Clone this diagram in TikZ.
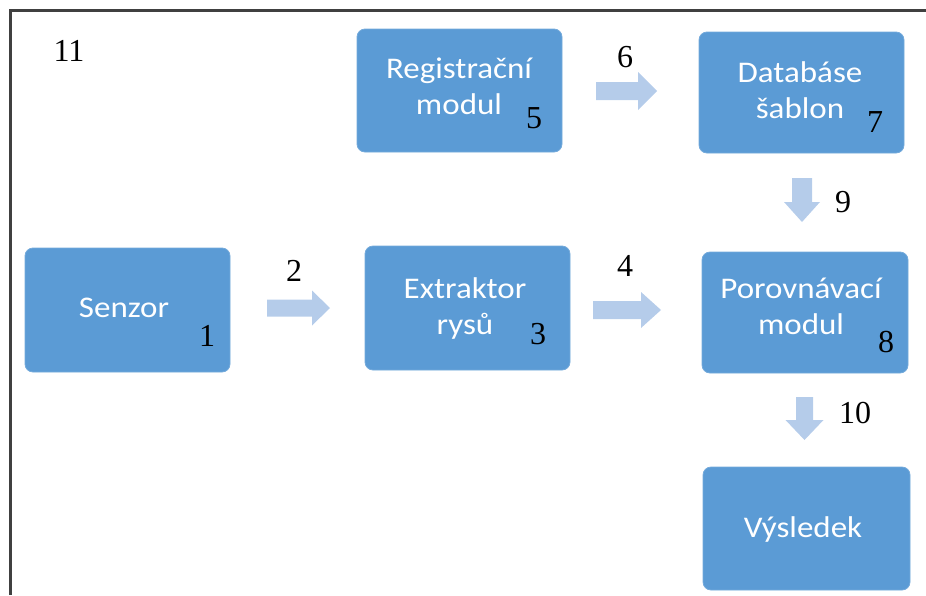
\documentclass[tikz,border=0pt]{standalone}
\usepackage{fontspec}
\setmainfont{Liberation Serif}
\newfontfamily\boxfont[FakeStretch=1.1]{Carlito}
\definecolor{boxblue}{RGB}{91,155,213}
\definecolor{arrowblue}{RGB}{181,204,234}
\definecolor{framegray}{RGB}{64,64,64}
\newcommand\rarrow[6]{\fill[blk] (#1,#4-#5) -- (#2,#4-#5) -- (#2,#4-#6) -- (#3,#4) -- (#2,#4+#6) -- (#2,#4+#5) -- (#1,#4+#5) -- cycle;}
\newcommand\darrow[6]{\fill[blk] (#4-#5,#1) -- (#4-#5,#2) -- (#4-#6,#2) -- (#4,#3) -- (#4+#6,#2) -- (#4+#5,#2) -- (#4+#5,#1) -- cycle;}
\begin{document}
\begin{tikzpicture}[x=1pt,y=-1pt,
  box/.style={fill=boxblue, draw=boxblue!85!white, line width=0.8pt, rounded corners=8pt, inner sep=0pt},
  lbl/.style={text=white, font=\boxfont\fontsize{30}{36}\selectfont, align=center, inner sep=0pt},
  num/.style={font=\fontsize{32}{32}\selectfont, inner sep=0pt},
  blk/.style={fill=arrowblue}]
\useasboundingbox (0,0) rectangle (926,595);
\draw[line width=3pt, color=framegray] (10,595) -- (10,10.5) -- (926,10.5);

% boxes
\node[box, minimum width=205pt, minimum height=124pt] (senzor) at (127.5,310) {};
\node[box, minimum width=205pt, minimum height=123pt] (reg) at (459.5,90.5) {};
\node[box, minimum width=205pt, minimum height=124pt] (extr) at (467.5,308) {};
\node[box, minimum width=205pt, minimum height=121pt] (db) at (801.5,92.5) {};
\node[box, minimum width=206pt, minimum height=121pt] (por) at (805,312.5) {};
\node[box, minimum width=207pt, minimum height=123pt] (vys) at (806.5,528.5) {};

% labels (base anchor = baseline of last line)
\node[lbl, anchor=base] (tsenzor) at (124,317) {Senzor};
\node[lbl, anchor=base] (treg) at (459,114) {Registrační\\modul};
\node[lbl, anchor=base] (textr) at (465,334) {Extraktor\\rysů};
\node[lbl, anchor=base] (tdb) at (800,118) {Databáse\\šablon};
\node[lbl, anchor=base] (tpor) at (801,334) {Porovnávací\\modul};
\node[lbl, anchor=base] (tvys) at (803,537) {Výsledek};

% numbers
\node[num] (n1) at (207,336) {1};
\node[num] (n2) at (294,271) {2};
\node[num] (n3) at (538,334) {3};
\node[num] (n4) at (625,266) {4};
\node[num] (n5) at (534,118) {5};
\node[num] (n6) at (625,57) {6};
\node[num] (n7) at (875,122) {7};
\node[num] (n8) at (886,342) {8};
\node[num] (n9) at (843,202) {9};
\node[num] (n10) at (855,413) {10};
\node[num] (n11) at (69,51) {11};

% block arrows
\rarrow{267}{312}{330}{308}{8.5}{17.5}
\rarrow{593}{641}{661}{310}{9}{18}
\rarrow{596}{638}{657}{91}{9}{19}
\darrow{178}{202}{222}{802}{10}{18}
\darrow{397}{420}{440}{804.5}{8.5}{19}
\end{tikzpicture}
\end{document}
